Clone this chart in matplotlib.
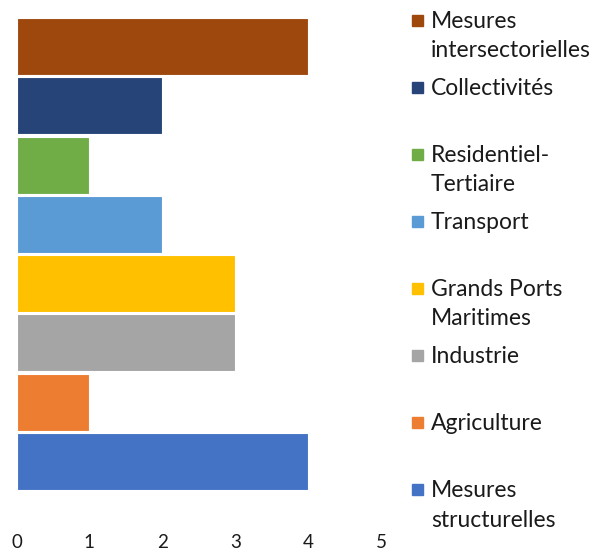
import matplotlib.pyplot as plt
from matplotlib.patches import Rectangle

# categories from top to bottom
labels = ['Mesures\nintersectorielles', 'Collectivités', 'Residentiel-\nTertiaire',
          'Transport', 'Grands Ports\nMaritimes', 'Industrie', 'Agriculture',
          'Mesures\nstructurelles']
values = [4, 2, 1, 2, 3, 3, 1, 4]
colors = ['#9E480E', '#264478', '#70AD47', '#5B9BD5', '#FFC000', '#A5A5A5',
          '#ED7D31', '#4472C4']
xticks = [0, 1, 2, 3, 4, 5]

plt.rcParams['font.family'] = ['Lato', 'DejaVu Sans']
text_color = '#1a1a1a'

W, H = 595, 551
fig = plt.figure(figsize=(W / 100, H / 100), dpi=100)
ax = fig.add_axes([16.5 / W, 1 - 491 / H, (381 - 16.5) / W, (491 - 17) / H])

n = len(values)
ypos = list(range(n - 1, -1, -1))
ax.barh(ypos, values, height=0.96, color=colors, edgecolor='white', linewidth=0.8)

ax.set_xlim(0, 5)
ax.set_ylim(-0.5, n - 0.5)
ax.set_xticks(xticks)
ax.set_yticks([])
ax.tick_params(axis='x', length=0, pad=31, labelsize=13.5, labelcolor=text_color)
for s in ax.spines.values():
    s.set_visible(False)

# legend drawn by hand so the marker sits on the first line
for i, (lab, c) in enumerate(zip(labels, colors)):
    y = 20 + i * 67.1
    fig.patches.append(Rectangle((412 / W, 1 - (y + 5.5) / H), 11 / W, 11 / H,
                                 transform=fig.transFigure, color=c))
    for k, line in enumerate(lab.split('\n')):
        fig.text(431 / W, 1 - (y + 7.5 + 29.5 * k) / H, line, ha='left',
                 va='baseline', fontsize=16.5, color=text_color)

fig.savefig('out.png', dpi=100)
